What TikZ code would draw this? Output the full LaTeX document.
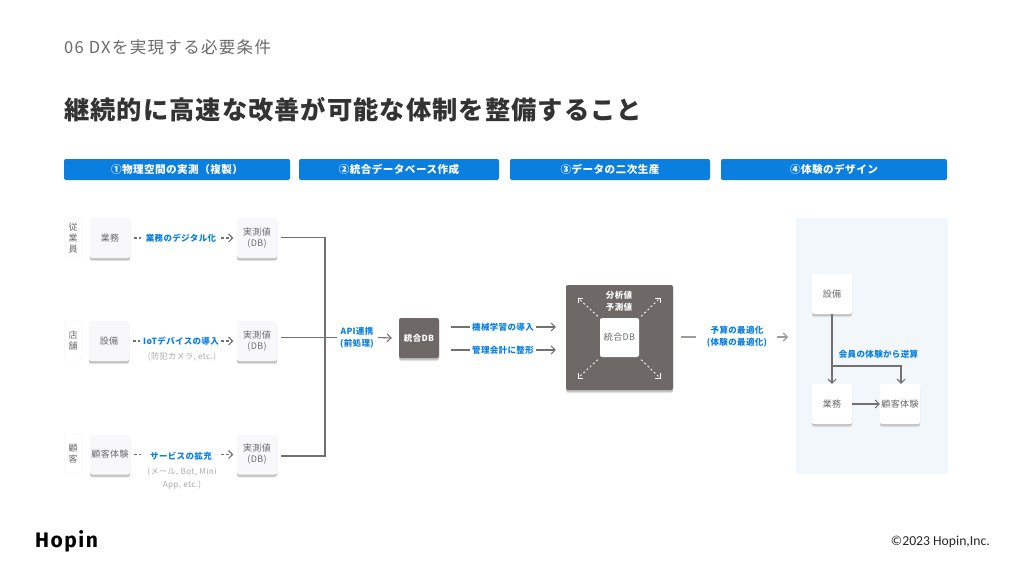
\documentclass[tikz,border=0pt]{standalone}
\usepackage{fontspec}
\setmainfont[LetterSpace=4]{Noto Sans CJK JP}
\newfontfamily\subfont[LetterSpace=8]{Noto Sans CJK JP}
\newfontfamily\logofont[LetterSpace=7]{Fira Sans}
\newfontfamily\copyfont{Carlito}
\usetikzlibrary{arrows.meta}
\definecolor{hopinblue}{HTML}{0A7FE0}
\definecolor{linegray}{HTML}{747070}
\definecolor{boxdark}{HTML}{6E6866}
\definecolor{cardfill}{HTML}{F8F8FB}
\definecolor{paneltint}{HTML}{F2F7FC}
\definecolor{textgray}{HTML}{6A6A6A}
\definecolor{notegray}{HTML}{ABABAB}
\lineskiplimit=-100pt
\tikzset{
  softshadow/.style={preaction={draw=none,fill=black!10,transform canvas={yshift=-3pt}},
                     preaction={draw=none,fill=black!24,transform canvas={yshift=-2pt}}},
  cardbox/.style={softshadow,fill=cardfill,rounded corners=2pt,inner sep=0pt,minimum width=40pt,minimum height=40pt,
    align=center,text=textgray,font=\fontsize{9}{11}\selectfont},
  whitecard/.style={cardbox,fill=white},
  sidetag/.style={draw=black!6,fill=white,rounded corners=2pt,inner sep=0pt,minimum width=17pt,minimum height=39pt,
    align=center,text=textgray,font=\fontsize{9}{11}\selectfont},
  darkbox/.style={softshadow,fill=boxdark,rounded corners=2pt,inner sep=0pt},
  headbar/.style={fill=hopinblue,rounded corners=2pt,inner sep=0pt,minimum height=21pt,text=white,
    font=\fontsize{10.6}{12}\selectfont\bfseries},
  bluelabel/.style={inner sep=0pt,align=center,text=hopinblue,font=\fontsize{8.5}{12.5}\selectfont\bfseries},
  notelabel/.style={inner sep=0pt,align=center,text=notegray,font=\fontsize{8.2}{13}\selectfont},
  conn/.style={draw=linegray,line width=1.1pt},
  connarrow/.style={conn,-{Straight Barb[length=4pt,width=8pt,line width=1.1pt]}},
  dashseg/.style={conn,dash pattern=on 2.4pt off 2.4pt},
  dasharrow/.style={dashseg,-{Straight Barb[length=4pt,width=8pt,line width=1.1pt,sep=0pt]}},
  whitedash/.style={draw=white,line width=0.9pt,dash pattern=on 2pt off 2.4pt},
}
\begin{document}
\begin{tikzpicture}[x=1pt,y=-1pt]
\useasboundingbox (0,0) rectangle (1024,576);
% titles
\node[anchor=west,inner sep=0pt,text=textgray,font=\fontsize{16.5}{20}\selectfont\subfont] (sub) at (64,47.5) {06 DXを実現する必要条件};
\node[anchor=west,inner sep=0pt,text=black!80,font=\fontsize{25.3}{30}\selectfont\bfseries] (title) at (64,110) {継続的に高速な改善が可能な体制を整備すること};
% header bars
\node[headbar,minimum width=226pt] (h1) at (177,169.5) {①物理空間の実測（複製）};
\node[headbar,minimum width=200pt] (h2) at (399,169.5) {②統合データベース作成};
\node[headbar,minimum width=200pt] (h3) at (610,169.5) {③データの二次生産};
\node[headbar,minimum width=226pt] (h4) at (834,169.5) {④体験のデザイン};
% left column
\node[sidetag] (t1) at (73,238) {従\\業\\員};
\node[sidetag] (t2) at (73,340.5) {店\\舗};
\node[sidetag] (t3) at (73,454) {顧\\客};
\node[cardbox] (b1) at (110,238) {業務};
\node[cardbox] (b2) at (109,341) {設備};
\node[cardbox] (b3) at (110,454.5) {顧客体験};
\node[cardbox] (m1) at (257,238) {実測値\\(DB)};
\node[cardbox] (m2) at (257,341) {実測値\\(DB)};
\node[cardbox] (m3) at (257,454.5) {実測値\\(DB)};
\node[bluelabel] (l1) at (181,238) {業務のデジタル化};
\node[bluelabel] (l2) at (181,341) {IoTデバイスの導入};
\node[bluelabel] (l3) at (181,456) {サービスの拡充};
\node[notelabel] (n2) at (182,357) {(防犯カメラ, etc.)};
\node[notelabel] (n3) at (182,479) {(メール, Bot, Mini\\App, etc.)};
\foreach \a/\t/\m in {b1/l1/m1,b2/l2/m2,b3/l3/m3}{
  \coordinate (s\a) at ([xshift=4pt]\a.east);
  \coordinate (e\a) at ([xshift=-3.5pt]\m.west);
  \draw[dashseg] (s\a) -- ([xshift=7.2pt]s\a);
  \draw[dasharrow] ([xshift=-12pt]e\a) -- (e\a);
}
% merge
\node[bluelabel] (api) at (357,337.5) {API連携\\(前処理)};
\node[darkbox,minimum width=40pt,minimum height=40pt,text=white,font=\fontsize{8.5}{10}\selectfont\bfseries] (db) at (419,338) {統合DB};
\coordinate (bus1) at (325,237.5);
\coordinate (bus3) at (325,456);
\coordinate (busout) at (337,337.5);
\draw[conn] ([xshift=4pt]m1.east |- bus1) -- (bus1) -- (bus3) -- ([xshift=4pt]m3.east |- bus3);
\draw[conn] ([xshift=4pt]m2.east |- busout) -- (busout);
\draw[connarrow] ([xshift=4pt]api.east) -- ([xshift=-7pt]db.west);
% ML
\node[bluelabel] (ml) at (503,327) {機械学習の導入};
\node[bluelabel] (mg) at (503,350) {管理会計に整形};
\foreach \t in {ml,mg}{
  \draw[conn] ([xshift=-21pt]\t.west) -- ([xshift=-2pt]\t.west);
  \draw[connarrow] ([xshift=2pt]\t.east) -- ([xshift=22pt]\t.east);
}
% big box
\node[darkbox,minimum width=107pt,minimum height=105pt] (big) at (619.5,337.5) {};
\node[fill=white,rounded corners=2pt,inner sep=0pt,minimum width=39pt,minimum height=39pt,text=textgray,font=\fontsize{9}{10}\selectfont] (core) at (619.5,337.5) {統合DB};
\node[inner sep=0pt,align=center,text=white,font=\fontsize{8.5}{12}\selectfont\bfseries] (an) at (619,301) {分析値\\予測値};
\foreach \p/\ex/\ey/\sx/\sy in {north west/578/298/-2/-1.5,north east/660/298/2/-1.5,south west/578/378/-2/2.5,south east/660/378/2/2.5}{
  \coordinate (q) at (\ex,\ey);
  \draw[whitedash] ([xshift=\sx pt,yshift=-\sy pt]core.\p) -- (q);
}
\foreach \x/\y/\dx/\dy in {578/298/1/1,660/298/-1/1,578/378/1/-1,660/378/-1/-1}{
  \coordinate (cc) at (\x,\y);
  \draw[draw=white,line width=0.9pt] ([xshift=\dx*5pt]cc) -- (cc) -- ([yshift=-\dy*5pt]cc);
}
\node[bluelabel] (opt) at (737,336.5) {予算の最適化\\(体験の最適化)};
\coordinate (o1) at (681,337);
\draw[conn,draw=linegray!70] (o1) -- ++(15,0);
\coordinate (o2) at (777,337);
\draw[connarrow,draw=linegray!70] (o2) -- ++(11,0);
% right panel
\node[fill=paneltint,rounded corners=2pt,inner sep=0pt,minimum width=152pt,minimum height=256pt] (panel) at (872,346) {};
\node[whitecard] (eq) at (832,294) {設備};
\node[whitecard] (ops) at (832,404) {業務};
\node[whitecard] (cx) at (900,404) {顧客体験};
\node[bluelabel] (rev) at (878.5,354) {会員の体験から逆算};
\coordinate (jn) at (832,366);
\draw[connarrow,line width=1.5pt] (eq.south) -- (ops.north);
\draw[connarrow] (jn) -| ([xshift=1pt]cx.north);
\draw[connarrow] (ops.east) -- (cx.west);
% footer
\node[anchor=west,inner sep=0pt,text=black,font=\fontsize{21}{24}\selectfont\logofont\bfseries] (logo) at (35,541) {Hopin};
\node[anchor=east,inner sep=0pt,text=black!85,font=\fontsize{13.7}{16}\selectfont\copyfont] (copy) at (990,541.5) {©2023 Hopin,Inc.};
\end{tikzpicture}
\end{document}
